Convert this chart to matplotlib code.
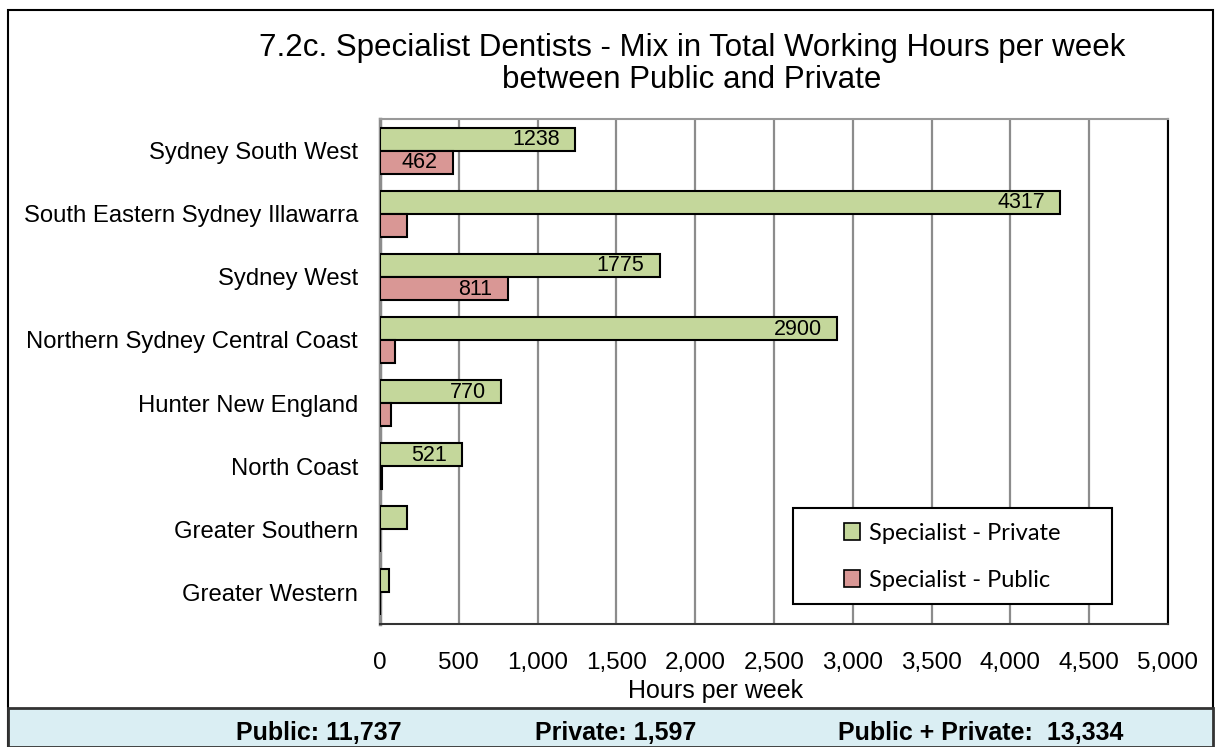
# 7.2c Specialist dentists: private vs public working hours by area

import numpy as np
import matplotlib.pyplot as plt
from matplotlib.patches import Rectangle

areas = ['Sydney South West', 'South Eastern Sydney Illawarra', 'Sydney West',
         'Northern Sydney Central Coast', 'Hunter New England', 'North Coast',
         'Greater Southern', 'Greater Western']
private = [1238, 4317, 1775, 2900, 770, 521, 171, 57]
public = [462, 171, 811, 95, 70, 12, 0, 0]
xticks = [0, 500, 1000, 1500, 2000, 2500, 3000, 3500, 4000, 4500, 5000]
footer = ['Public: 11,737', 'Private: 1,597', 'Public + Private:  13,334']

plt.rcParams['font.family'] = ['Liberation Sans', 'DejaVu Sans']

W, H = 1218, 747
fig = plt.figure(figsize=(W/100, H/100), dpi=100)
ax = fig.add_axes([380/W, 1-624/H, (1168-380)/W, (624-119)/H])

y = np.arange(len(areas))
h = 0.365
green = '#C4D79B'; pink = '#D99795'
bp = ax.barh(y - h/2, private, height=h, color=green, edgecolor='black', lw=1.5,
             label='Specialist - Private', zorder=3)
bq = ax.barh(y + h/2, public, height=h, color=pink, edgecolor='black', lw=1.5,
             label='Specialist - Public', zorder=3)

# only the larger bars carry a value label
for bars, vals in ((bp, private), (bq, public)):
    for b, v in zip(bars, vals):
        if v > 300:
            ax.annotate(str(v), (v, b.get_y() + b.get_height()/2),
                        xytext=(-11, -0.5), textcoords='offset points',
                        ha='right', va='center', fontsize=15.5, zorder=4)

ax.set_xlim(0, 5000)
ax.set_ylim(len(areas) - 0.5, -0.5)
ax.set_xticks(xticks)
ax.set_xticklabels([f'{t:,}' for t in xticks], fontsize=17.5)
ax.set_yticks(y)
ax.set_yticklabels(areas, fontsize=17.2)
ax.tick_params(axis='both', length=0)
ax.tick_params(axis='x', pad=20)
ax.tick_params(axis='y', pad=15.8)
ax.grid(axis='x', color='#8c8c8c', lw=1.6, zorder=0)
ax.spines['left'].set_color('#8c8c8c'); ax.spines['left'].set_linewidth(2.5)
ax.spines['top'].set_color('#999999'); ax.spines['top'].set_linewidth(1.5)
ax.spines['right'].set_color('black'); ax.spines['right'].set_linewidth(1.5)
ax.spines['bottom'].set_color('#333333'); ax.spines['bottom'].set_linewidth(1.5)

fig.text(716/W, 1-691/H, 'Hours per week', ha='center', va='center', fontsize=18)
fig.text(692/W, 1-64/H,
         '7.2c. Specialist Dentists - Mix in Total Working Hours per week\nbetween Public and Private',
         ha='center', va='center', fontsize=22.5, linespacing=1.12)

# legend box is wider than its contents, so draw the frame separately
fig.patches.append(Rectangle((793/W, 1-604/H), (1112-793)/W, (604-508)/H,
                             transform=fig.transFigure, facecolor='white',
                             edgecolor='black', lw=1.5, zorder=4))
leg = fig.legend(handles=[bp, bq], loc='center', bbox_to_anchor=(952/W, 1-557/H),
                 frameon=False, prop={'family': ['Lato', 'DejaVu Sans'], 'size': 17},
                 handlelength=0.7, handleheight=0.7, handletextpad=0.35,
                 labelspacing=1.1, borderpad=0)
leg.set_zorder(6)
for hd in leg.legend_handles:
    hd.set_linewidth(1.2)

# outer frame and footer band
fig.patches.append(Rectangle((8/W, 0), (1213-8)/W, 1-10/H, transform=fig.transFigure,
                             fill=False, edgecolor='black', lw=1.5))
fig.patches.append(Rectangle((8/W, 0), (1213-8)/W, (747-708)/H, transform=fig.transFigure,
                             facecolor='#DAEEF3', edgecolor='#333333', lw=2))
for xp, txt in zip([319, 616, 981], footer):
    fig.text(xp/W, 1-733/H, txt, ha='center', va='center', fontsize=18,
             fontweight='bold')

fig.savefig('out.png', dpi=100)
